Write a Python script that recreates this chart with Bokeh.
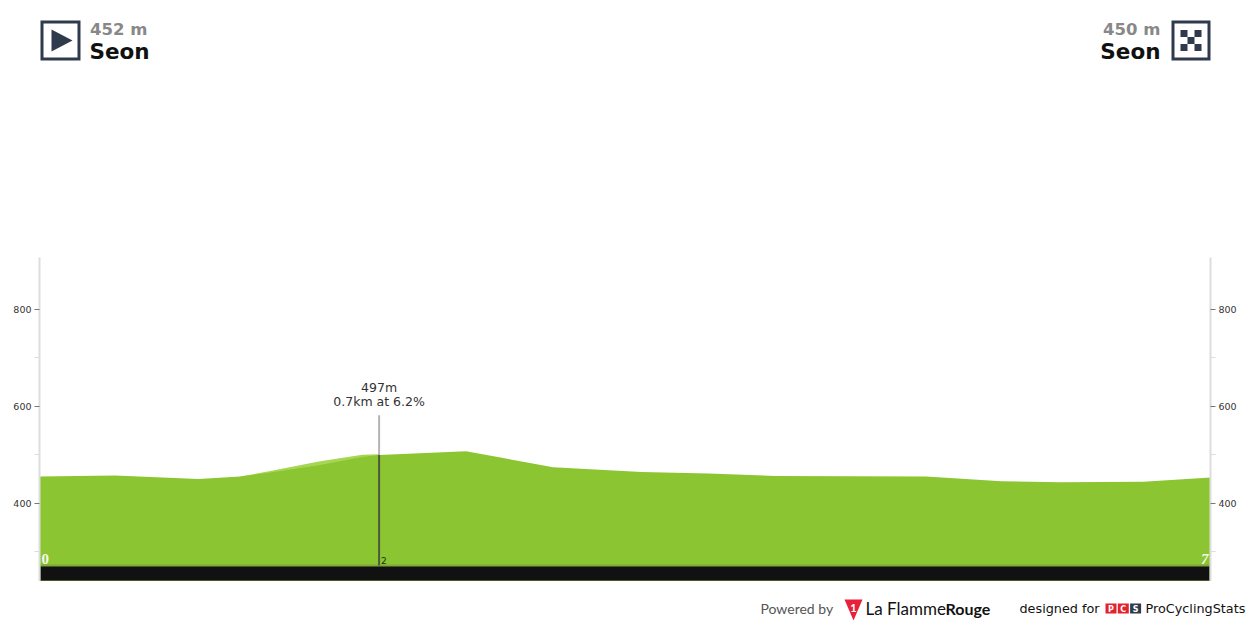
from bokeh.plotting import figure
from bokeh.layouts import column
from bokeh.models import Range1d, LinearAxis, FixedTicker
from bokeh.core.properties import value
from bokeh.embed import file_html
from bokeh.resources import INLINE

# ---- data ----
profile_km = [0, 0.45, 0.95, 1.2, 1.38, 1.67, 1.93, 2.03, 2.55, 3.07, 3.6, 4.0, 4.4, 5.3, 5.75, 6.1, 6.6, 7]
profile_m = [455, 457, 450, 455, 463, 478, 495, 499, 507, 474, 464, 461, 456, 455, 445, 443, 444, 453]
climb_km = [1.2, 1.38, 1.67, 1.93, 2.03]
climb_top_m = [455, 466, 486, 500, 501]
y_major = [400, 600, 800]
y_minor = [300, 500, 700]
km_ends = [0, 7]
km_end_labels = ["0", "7"]
km_marks = [2.03]
km_mark_labels = ["2"]
summit_km = 2.03
summit_m = 499
summit_stem_top = 581
summit_lines = ["497m", "0.7km at 6.2%"]
band_bottom = 238.5
band_top = 271.5
y_top = 906.3
start_elev, start_name = "452 m", "Seon"
finish_elev, finish_name = "450 m", "Seon"

GREEN = "#8BC532"
LIGHT = "#A6D653"
INK = "#2F3A4C"

p = figure(frame_width=1171, frame_height=324, min_border_left=39, min_border_right=40,
           min_border_top=0, min_border_bottom=0, toolbar_location=None,
           output_backend="svg", x_range=Range1d(0, 7), y_range=Range1d(band_bottom, y_top),
           y_axis_location=None, x_axis_location=None, frame_align=False)
p.grid.visible = False
p.outline_line_color = None


def style(ax):
    ax.ticker = FixedTicker(ticks=y_major, minor_ticks=y_minor)
    ax.axis_line_color = "#DDDDDD"
    ax.axis_line_width = 2
    ax.major_tick_in = 0
    ax.major_tick_out = 5
    ax.major_tick_line_color = "#777777"
    ax.minor_tick_in = 0
    ax.minor_tick_out = 5
    ax.minor_tick_line_color = "#DDDDDD"
    ax.major_label_text_font = "DejaVu Sans"
    ax.major_label_text_font_size = "9.5px"
    ax.major_label_text_color = "#333333"
    ax.major_label_standoff = 3
    return ax


p.add_layout(style(LinearAxis()), "left")
p.add_layout(style(LinearAxis()), "right")

p.varea(x=climb_km, y1=[band_top] * len(climb_km), y2=climb_top_m, fill_color=LIGHT)
p.varea(x=profile_km, y1=[band_top] * len(profile_km), y2=profile_m, fill_color=GREEN)
p.quad(left=[0], right=[7], bottom=[band_bottom], top=[band_top], fill_color="#111111",
       line_color="#7FA83A", line_width=2)

p.segment(x0=[summit_km], x1=[summit_km], y0=[band_top], y1=[summit_m], line_color="#4A5A3A", line_width=2)
p.segment(x0=[summit_km], x1=[summit_km], y0=[summit_m], y1=[summit_stem_top], line_color="#B5B5B5", line_width=2)

p.text(x=[km_ends[0]], y=[band_top], text=[km_end_labels[0]], x_offset=2, y_offset=-1,
       text_font=value("Liberation Serif"), text_font_style="bold", text_font_size="15px",
       text_color="#F4F8E8", text_align="left", text_baseline="bottom")
p.text(x=[km_ends[1]], y=[band_top], text=[km_end_labels[1]], x_offset=-2, y_offset=-1,
       text_font=value("Liberation Serif"), text_font_style="bold italic", text_font_size="15px",
       text_color="#F4F8E8", text_align="right", text_baseline="bottom")
p.text(x=km_marks, y=[band_top] * len(km_marks), text=km_mark_labels, x_offset=2, y_offset=-1,
       text_font=value("DejaVu Sans"), text_font_size="9px", text_color="#1E3010",
       text_align="left", text_baseline="bottom")

for i, line in enumerate(summit_lines):
    p.text(x=[summit_km], y=[summit_stem_top], text=[line], y_offset=-20 + 14 * i,
           text_font=value("DejaVu Sans"), text_font_size="12.5px", text_color="#333333",
           text_align="center", text_baseline="bottom")


def strip(y0, y1):
    f = figure(width=1250, height=y1 - y0, min_border=0, toolbar_location=None,
               output_backend="svg", x_range=Range1d(0, 1250), y_range=Range1d(y1, y0),
               x_axis_location=None, y_axis_location=None, frame_align=False)
    f.grid.visible = False
    f.outline_line_color = None
    return f


def label(f, x, y, text, font, size, color, style="normal", align="left"):
    f.text(x=[x], y=[y - 0.37 * size], text=[text], text_font=value(font), text_font_size=f"{size}px",
           text_font_style=style, text_color=color, text_align=align, text_baseline="alphabetic")


def box(f, l, t, r, b, fill, line=None, lw=0):
    f.quad(left=[l], right=[r], top=[t], bottom=[b], fill_color=fill, line_color=line, line_width=lw,
           line_join="miter")


head = strip(0, 257)
box(head, 41.5, 21.5, 78.5, 58.5, "white", INK, 3)
head.patch(x=[51, 72, 51], y=[29, 40, 51], fill_color=INK, line_color=None)
label(head, 89.5, 35, start_elev, "DejaVu Sans", 16.5, "#888888", "bold")
label(head, 89, 59, start_name, "DejaVu Sans", 21.5, "#111111", "bold")

box(head, 1172.5, 21.5, 1208.5, 58.5, "white", INK, 3)
cell = 7
for r in range(3):
    for c in range(3):
        if (r + c) % 2 == 0:
            box(head, 1180 + c * cell, 29.5 + r * cell, 1180 + (c + 1) * cell, 29.5 + (r + 1) * cell, INK)
label(head, 1160, 35, finish_elev, "DejaVu Sans", 16.5, "#888888", "bold", "right")
label(head, 1160, 59, finish_name, "DejaVu Sans", 21.5, "#111111", "bold", "right")

foot = strip(581, 625)
label(foot, 760, 613, "Powered by", "Lato", 14, "#555555")
foot.patch(x=[844, 862, 853], y=[599, 599, 620], fill_color="#E8213A", line_color=None)
label(foot, 853, 612, "1", "Lato", 11, "white", "bold", "center")
label(foot, 865, 614, "La Flamme", "Lato", 17, "#111111")
label(foot, 945, 614, "Rouge", "Lato", 16, "#111111", "bold")
label(foot, 1019, 613, "designed for", "DejaVu Sans", 12.8, "#111111")
for i, (letter, col) in enumerate(zip("PCS", ["#E2232E", "#E2232E", "#2F3A4C"])):
    x0 = 1105 + i * 12.3
    box(foot, x0, 603, x0 + 11, 613, col)
    label(foot, x0 + 5.5, 611.5, letter, "DejaVu Sans", 8, "white", "bold", "center")
label(foot, 1145, 613, "ProCyclingStats", "DejaVu Sans", 12.8, "#111111")

page = column(head, p, foot, spacing=0)
open("out.html", "w").write(file_html(page, INLINE))
